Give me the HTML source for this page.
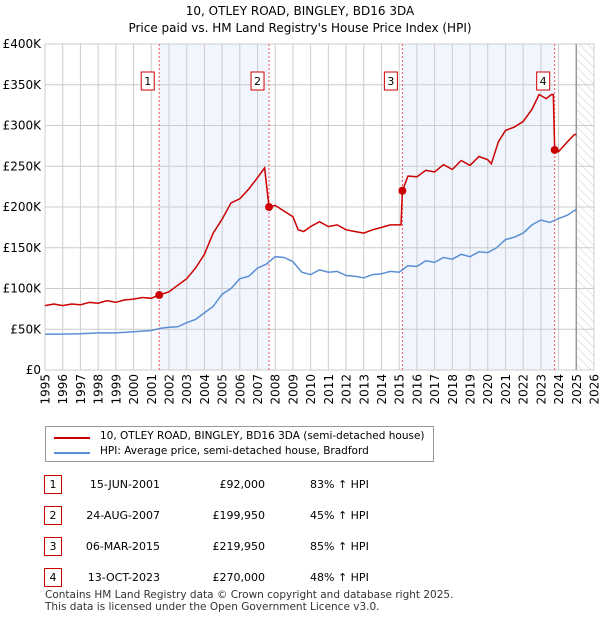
<!DOCTYPE html>
<html><head><meta charset="utf-8"><style>
body{margin:0;background:#fff;font-family:"DejaVu Sans","Liberation Sans",sans-serif;}
#wrap{position:relative;width:600px;height:620px;overflow:hidden}
.t{position:absolute;font-size:12px;color:#000;white-space:nowrap}
.box{position:absolute;border:1px solid #c00;width:16px;height:17px;text-align:center;font-size:11px;line-height:17px;background:#fff}
</style></head><body><div id="wrap">
<div class="t" style="left:0;width:600px;text-align:center;top:3px;font-size:12px;line-height:17px">10, OTLEY ROAD, BINGLEY, BD16 3DA<br>Price paid vs. HM Land Registry's House Price Index (HPI)</div>
<svg id="chart" width="600" height="410" style="position:absolute;left:0;top:0;font-family:'DejaVu Sans',sans-serif"></svg>
<div style="position:absolute;left:45px;top:426px;width:387px;height:34px;border:1px solid #999;font-size:11px">
<div style="position:absolute;left:8px;top:4px;width:36px;height:2px;background:#c00;margin-top:6px"></div>
<div class="t" style="left:54px;top:3px;font-size:10.5px">10, OTLEY ROAD, BINGLEY, BD16 3DA (semi-detached house)</div>
<div style="position:absolute;left:8px;top:20px;width:36px;height:2px;background:#5b8fd4;margin-top:5px"></div>
<div class="t" style="left:54px;top:18px;font-size:10.5px">HPI: Average price, semi-detached house, Bradford</div>
</div>
<div id="table"></div>
<div class="t" style="left:45px;top:589px;font-size:10.5px;line-height:12px;color:#333">Contains HM Land Registry data © Crown copyright and database right 2025.<br>This data is licensed under the Open Government Licence v3.0.</div>
</div>
<script>
const hpiYears=[1995,1996,1997,1998,1999,2000,2001,2001.5,2002,2002.5,2003,2003.5,2004,2004.5,2005,2005.5,2006,2006.5,2007,2007.5,2008,2008.5,2009,2009.5,2010,2010.5,2011,2011.5,2012,2012.5,2013,2013.5,2014,2014.5,2015,2015.5,2016,2016.5,2017,2017.5,2018,2018.5,2019,2019.5,2020,2020.5,2021,2021.5,2022,2022.5,2023,2023.5,2024,2024.5,2025];
const hpiValues=[44,44,44.5,45.5,45.5,47,48.5,51,52.5,53,58,62,70,78,93,100,112,115,125,130,139,138,133,120,117,123,120,121,116,115,113,117,118,121,120,128,127,134,132,138,136,142,139,145,144,150,160,163,168,178,184,181,186,190,197];
const propYears=[1995,1995.5,1996,1996.5,1997,1997.5,1998,1998.5,1999,1999.5,2000,2000.5,2001,2001.45,2002,2002.5,2003,2003.5,2004,2004.5,2005,2005.5,2006,2006.5,2007,2007.4,2007.65,2008,2008.5,2009,2009.3,2009.6,2010,2010.5,2011,2011.5,2012,2012.5,2013,2013.5,2014,2014.5,2015.1,2015.18,2015.5,2016,2016.5,2017,2017.5,2018,2018.5,2019,2019.5,2020,2020.2,2020.6,2021,2021.5,2022,2022.5,2022.9,2023.3,2023.6,2023.7,2023.78,2024,2024.5,2024.9,2025];
const propValues=[79,81,79,81,80,83,82,85,83,86,87,89,88,92,96,104,112,125,142,168,185,205,210,222,236,248,200,202,195,188,172,170,176,182,176,178,172,170,168,172,175,178,178,220,238,237,245,243,252,246,257,251,262,258,253,280,294,298,305,320,338,333,338,338,270,268,280,289,289];
const saleYears=[2001.45,2007.65,2015.18,2023.78];
const saleValues=[92,199.95,219.95,270];
const saleLabels=["1","2","3","4"];
const yTicks=[0,50,100,150,200,250,300,350,400];
const yTickLabels=["£0","£50K","£100K","£150K","£200K","£250K","£300K","£350K","£400K"];
const xTicks=[1995,1996,1997,1998,1999,2000,2001,2002,2003,2004,2005,2006,2007,2008,2009,2010,2011,2012,2013,2014,2015,2016,2017,2018,2019,2020,2021,2022,2023,2024,2025,2026];
const tableDates=["15-JUN-2001","24-AUG-2007","06-MAR-2015","13-OCT-2023"];
const tablePrices=["£92,000","£199,950","£219,950","£270,000"];
const tableHpi=["83% ↑ HPI","45% ↑ HPI","85% ↑ HPI","48% ↑ HPI"];

const L=45,R=594,T=44,B=370;
const x=v=>L+(v-1995)/(2026-1995)*(R-L);
const y=v=>B-v/400*(B-T);
const svg=document.getElementById('chart');
const NS='http://www.w3.org/2000/svg';
function mk(tag,attrs,parent){const e=document.createElementNS(NS,tag);for(const k in attrs)e.setAttribute(k,attrs[k]);(parent||svg).appendChild(e);return e;}
const defs=mk('defs',{});
const pat=mk('pattern',{id:'hatch',width:6,height:6,patternUnits:'userSpaceOnUse',patternTransform:'rotate(-45)'},defs);
mk('line',{x1:0,y1:0,x2:0,y2:6,stroke:'#ccc','stroke-width':1},pat);
[[0,1],[2,3]].forEach(([a,b],i)=>{const r=mk('rect',{x:x(saleYears[a]),y:T,width:x(saleYears[b])-x(saleYears[a]),height:B-T,fill:'#eef3fc',opacity:0.8});

});
const h=mk('rect',{x:x(2025),y:T,width:R-x(2025),height:B-T,fill:'url(#hatch)'});


xTicks.forEach(v=>{mk('line',{x1:x(v),x2:x(v),y1:T,y2:B,stroke:'#ccc','stroke-width':1});
const t=mk('text',{x:0,y:0,transform:`translate(${x(v)+4.5},${B+4}) rotate(-90)`,'text-anchor':'end','font-size':12,fill:'#000'});t.textContent=v;

});
yTicks.forEach((v,i)=>{mk('line',{x1:L,x2:R,y1:y(v),y2:y(v),stroke:'#ccc','stroke-width':1});
const t=mk('text',{x:L-4,y:y(v)+4,'text-anchor':'end','font-size':12,fill:'#000'});t.textContent=yTickLabels[i];

});
mk('line',{x1:x(2025),x2:x(2025),y1:T,y2:B,stroke:'#999','stroke-width':1.5});
saleYears.forEach((v,i)=>{const l=mk('line',{x1:x(v),x2:x(v),y1:T,y2:B,stroke:'#e55','stroke-width':1,'stroke-dasharray':'2,2'});

});
const pts=(xs,ys)=>xs.map((v,i)=>x(v).toFixed(1)+','+y(ys[i]).toFixed(1)).join(' ');
const hp=mk('polyline',{points:pts(hpiYears,hpiValues),fill:'none',stroke:'#5b8fd4','stroke-width':1.5});


const pp=mk('polyline',{points:pts(propYears,propValues),fill:'none',stroke:'#c00','stroke-width':1.5});


saleYears.forEach((v,i)=>{const c=mk('circle',{cx:x(v),cy:y(saleValues[i]),r:4,fill:'#c00'});


const g=mk('rect',{x:x(v)-18,y:72,width:13,height:18,fill:'#fff',stroke:'#c00','stroke-width':1});


const t=mk('text',{x:x(v)-11.5,y:85,'text-anchor':'middle','font-size':11,fill:'#000'});t.textContent=saleLabels[i];});
const tb=document.getElementById('table');
const rowsY=[475,506,537,568];
saleLabels.forEach((s,i)=>{const d=document.createElement('div');


d.style.cssText=`position:absolute;left:0;top:${rowsY[i]}px;width:600px;height:20px;font-size:11px`;
d.innerHTML=`<div class="box" style="left:44px;top:0">${s}</div><div class="t" style="left:60px;width:100px;text-align:right;top:3px;font-size:11px">${tableDates[i]}</div><div class="t" style="left:180px;width:85px;text-align:right;top:3px;font-size:11px">${tablePrices[i]}</div><div class="t" style="left:310px;top:3px;font-size:11px">${tableHpi[i]}</div>`;
tb.appendChild(d);});
</script></body></html>
